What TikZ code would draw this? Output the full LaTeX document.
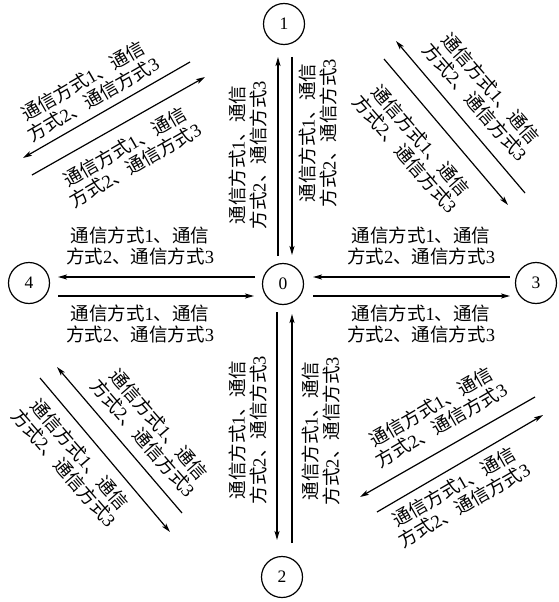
\documentclass[tikz,border=0pt]{standalone}
\usepackage{fontspec}
\setmainfont{Liberation Serif}
\newfontfamily\cjk{Noto Sans CJK SC}
\usetikzlibrary{arrows.meta}
\newcommand\txa{{\cjk 通信方式}1{\cjk 、通信}}
\newcommand\txb{{\cjk 方式}2{\cjk 、通信方式}3}
\begin{document}
\begin{tikzpicture}[x=1pt,y=-1pt,
  conn/.style={line width=1.2pt,-{Stealth[length=9pt,width=5pt,inset=2pt]}},
  state/.style={circle,draw,line width=1.2pt,minimum size=41pt,inner sep=0pt,font=\fontsize{17.5}{21}\selectfont},
  lbl/.style={align=center,font=\fontsize{18.5}{21}\selectfont,inner sep=0pt}]
\useasboundingbox (0,0) rectangle (559,602);
% states
\node[state] (n0) at (283,284) {0};
\node[state] (n1) at (284,24) {1};
\node[state] (n2) at (282,577) {2};
\node[state] (n3) at (536,283) {3};
\node[state] (n4) at (29,283) {4};
% end points
\coordinate (a1) at (278,256); \coordinate (a2) at (278,57);
\coordinate (b1) at (292,57);  \coordinate (b2) at (292,255);
\coordinate (c1) at (277,312); \coordinate (c2) at (277,540);
\coordinate (d1) at (292,543); \coordinate (d2) at (292,314);
\coordinate (e1) at (255,277); \coordinate (e2) at (58,277);
\coordinate (f1) at (58,296);  \coordinate (f2) at (254,296);
\coordinate (g1) at (510,277); \coordinate (g2) at (313,277);
\coordinate (h1) at (313,296); \coordinate (h2) at (510,296);
\coordinate (p1) at (190,62);  \coordinate (p2) at (23,158);
\coordinate (q1) at (32,175);  \coordinate (q2) at (205,77);
\coordinate (r1) at (525,193); \coordinate (r2) at (396,41);
\coordinate (s1) at (384,59);  \coordinate (s2) at (508,205);
\coordinate (t1) at (182,513); \coordinate (t2) at (57,367);
\coordinate (u1) at (40,378);  \coordinate (u2) at (170,532);
\coordinate (v1) at (535,397); \coordinate (v2) at (360,497);
\coordinate (w1) at (377,512); \coordinate (w2) at (543,415);
% connectors
\draw[conn] (a1) -- (a2);
\draw[conn] (b1) -- (b2);
\draw[conn] (c1) -- (c2);
\draw[conn] (d1) -- (d2);
\draw[conn] (e1) -- (e2);
\draw[conn] (f1) -- (f2);
\draw[conn] (g1) -- (g2);
\draw[conn] (h1) -- (h2);
\draw[conn] (p1) -- (p2);
\draw[conn] (q1) -- (q2);
\draw[conn] (r1) -- (r2);
\draw[conn] (s1) -- (s2);
\draw[conn] (t1) -- (t2);
\draw[conn] (u1) -- (u2);
\draw[conn] (v1) -- (v2);
\draw[conn] (w1) -- (w2);
% labels
\node[lbl] (le) at (140,246) {\txa\\\txb};
\node[lbl] (lf) at (140,324) {\txa\\\txb};
\node[lbl] (lg) at (421,246) {\txa\\\txb};
\node[lbl] (lh) at (421,324) {\txa\\\txb};
\node[lbl,rotate=90] (la) at (248,155) {\txa\\\txb};
\node[lbl,rotate=90] (lb) at (318,133) {\txa\\\txb};
\node[lbl,rotate=90] (lc) at (248,430) {\txa\\\txb};
\node[lbl,rotate=90] (ld) at (321,431) {\txa\\\txb};
\node[lbl,rotate=30] (lp) at (88,90) {\txa\\\txb};
\node[lbl,rotate=30] (lq) at (130,156) {\txa\\\txb};
\node[lbl,rotate=-49] (lr) at (483,95) {\txa\\\txb};
\node[lbl,rotate=-49] (ls) at (413,147) {\txa\\\txb};
\node[lbl,rotate=-49] (lt) at (151,431) {\txa\\\txb};
\node[lbl,rotate=-49] (lu) at (72,461) {\txa\\\txb};
\node[lbl,rotate=30] (lv) at (436,416) {\txa\\\txb};
\node[lbl,rotate=30] (lw) at (459,496) {\txa\\\txb};
\end{tikzpicture}
\end{document}
